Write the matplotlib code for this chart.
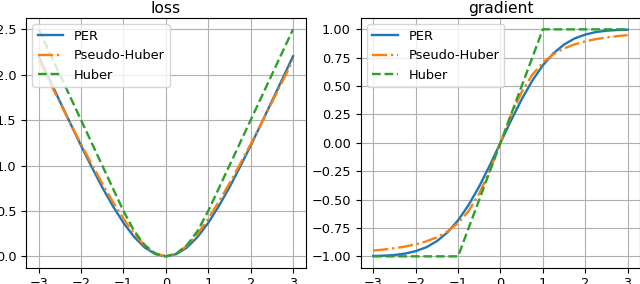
import matplotlib
matplotlib.use("Agg")
import matplotlib.pyplot as plt

# x samples, step 0.25 from -3 to 3
x = [-3.0, -2.75, -2.5, -2.25, -2.0, -1.75, -1.5, -1.25, -1.0, -0.75, -0.5, -0.25,
     0.0, 0.25, 0.5, 0.75, 1.0, 1.25, 1.5, 1.75, 2.0, 2.25, 2.5, 2.75, 3.0]

# loss values (right half, mirrored for the left)
per_loss_half = [0.0, 0.025, 0.098, 0.215, 0.369, 0.554, 0.760, 0.985,
                 1.218, 1.462, 1.707, 1.954, 2.203]
phuber_loss_half = [0.0, 0.031, 0.118, 0.250, 0.414, 0.601, 0.803, 1.016,
                    1.236, 1.462, 1.693, 1.926, 2.162]
huber_loss_half = [0.0, 0.031, 0.125, 0.281, 0.5, 0.75, 1.0, 1.25,
                   1.5, 1.75, 2.0, 2.25, 2.5]

# gradient values (odd: left half is negated)
per_grad_half = [0.0, 0.197, 0.383, 0.547, 0.683, 0.789, 0.866, 0.920,
                 0.954, 0.976, 0.988, 0.994, 0.997]
phuber_grad_half = [0.0, 0.243, 0.447, 0.600, 0.707, 0.781, 0.832, 0.868,
                    0.894, 0.914, 0.928, 0.940, 0.949]
huber_grad_half = [0.0, 0.25, 0.5, 0.75, 1.0, 1.0, 1.0, 1.0,
                   1.0, 1.0, 1.0, 1.0, 1.0]

xticks = [-3, -2, -1, 0, 1, 2, 3]
loss_ticks = [0.0, 0.5, 1.0, 1.5, 2.0, 2.5]
grad_ticks = [-1.0, -0.75, -0.5, -0.25, 0.0, 0.25, 0.5, 0.75, 1.0]

def even(h):
    return h[:0:-1] + h

def odd(h):
    return [-v for v in h[:0:-1]] + h

per_loss = even(per_loss_half)
phuber_loss = even(phuber_loss_half)
huber_loss = even(huber_loss_half)
per_grad = odd(per_grad_half)
phuber_grad = odd(phuber_grad_half)
huber_grad = odd(huber_grad_half)

plt.rcParams['font.size'] = 9.3
plt.rcParams['lines.linewidth'] = 1.7

fig = plt.figure(figsize=(6.4, 2.84), dpi=100)
ax1 = fig.add_axes([0.0406, 0.0574, 0.4371, 0.8792])
ax2 = fig.add_axes([0.5634, 0.0574, 0.4371, 0.8792])

def draw(ax, a, b, c, title, yt):
    ax.plot(x, a, label="PER")
    ax.plot(x, b, "-.", label="Pseudo-Huber")
    ax.plot(x, c, "--", label="Huber")
    ax.set_title(title, fontsize=11.2, pad=3.5)
    ax.set_xticks(xticks)
    ax.set_yticks(yt)
    ax.grid(True)
    ax.legend(loc="upper left")

draw(ax1, per_loss, phuber_loss, huber_loss, "loss", loss_ticks)
draw(ax2, per_grad, phuber_grad, huber_grad, "gradient", grad_ticks)

fig.savefig("out.png", dpi=100)
